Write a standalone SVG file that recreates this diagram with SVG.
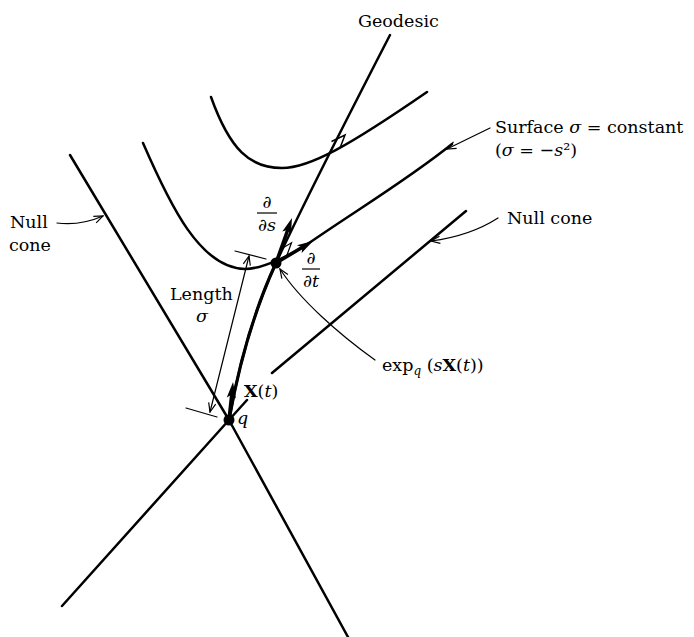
<svg xmlns="http://www.w3.org/2000/svg" width="694" height="637" viewBox="0 0 694 637">
<style>
.c{fill:none;stroke:#000;stroke-width:2.5;stroke-linecap:round;stroke-linejoin:round}
.thk{fill:none;stroke:#000;stroke-width:3.5;stroke-linecap:butt}
.thin{fill:none;stroke:#000;stroke-width:1.2;stroke-linecap:round}
.t{font-family:"DejaVu Serif","Liberation Serif",serif;font-size:17.5px;fill:#000}
.i{font-style:italic}
.b{font-weight:bold}
</style>
<defs>
<marker id="ah" markerUnits="userSpaceOnUse" viewBox="-9 -6 18 12" refX="0" refY="0" markerWidth="18" markerHeight="12" orient="auto">
<path d="M-8,-4.6 L8,0 L-8,4.6 L-4.5,0 Z" fill="#000"/>
</marker>
<marker id="oa" markerUnits="userSpaceOnUse" viewBox="-10 -5 11 10" refX="0" refY="0" markerWidth="11" markerHeight="10" orient="auto-start-reverse">
<path d="M-9,-3.6 L0,0 L-9,3.6" fill="none" stroke="#000" stroke-width="1.2"/>
</marker>
</defs>
<rect width="694" height="637" fill="#fff"/>

<g id="null-cone-left-to-right-down">
<path class="c" d="M70,155 L229,420 L348,637"/>
</g>
<g id="null-cone-right-up">
<path class="c" d="M62,606 L229,420 L247,400"/>
<path class="c" d="M272,373 L466,211"/>
</g>
<g id="surface-upper">
<path class="c" d="M211,97 C230,150 250,168 282,168 C310,168 350,145 427,92"/>
<path fill="none" stroke="#000" stroke-width="1.5" d="M331.5,141.5 L345,135 L340,148"/>
</g>
<g id="surface-lower">
<path class="c" d="M143,143 C170,205 200,268 245,269 C262,269 290,256 312,241 C360,208 410,178 452,144"/>
</g>
<g id="geodesic">
<path class="c" d="M229,420 Q245,330 276,263 Q307,196 390,35"/>
<path fill="none" stroke="#000" stroke-width="3.2" d="M229,420 Q245,330 276,263"/>
</g>

<g id="vectors">
<path class="thk" d="M229,420 L232.2,390" marker-end="url(#ah)"/>
<path class="thk" d="M276,263 L289.3,225.5" marker-end="url(#ah)"/>
<path class="thk" d="M276,263 L306.2,245" marker-end="url(#ah)"/>
<path fill="none" stroke="#000" stroke-width="1.2" d="M281,249 L291.5,242.8 L286.3,256.9"/>
</g>

<g id="point-q">
<circle cx="229" cy="420" r="5.5"/>
</g>
<g id="point-exp">
<circle cx="276" cy="263" r="5.5"/>
</g>

<g id="connectors">
<path class="thin" d="M249,256 L210,412" marker-start="url(#oa)" marker-end="url(#oa)"/>
<path class="thin" d="M235,251 L266,259"/>
<path class="thin" d="M186,408 L217,417"/>
<path class="thin" d="M375,360 C340,335 300,300 280,269" marker-end="url(#oa)"/>
<path class="thin" d="M57,223 Q80,226 103,216" marker-end="url(#oa)"/>
<path class="thin" d="M498,218 Q470,236 431,241" marker-end="url(#oa)"/>
<path class="thin" d="M490,128 L447,149" marker-end="url(#oa)"/>
</g>

<g id="labels">
<text class="t" x="358" y="27">Geodesic</text>
<text class="t" x="495" y="133" font-size="18">Surface <tspan class="i">σ</tspan> = constant</text>
<text class="t" x="495" y="156">(<tspan class="i">σ</tspan> = −<tspan class="i">s</tspan>²)</text>
<text class="t" x="507" y="224">Null cone</text>
<text class="t" x="10" y="228">Null</text>
<text class="t" x="9" y="251">cone</text>
<text class="t" x="170" y="300">Length</text>
<text class="t i" x="196" y="322">σ</text>
<text class="t i" x="267" y="208" text-anchor="middle" font-size="16">∂</text>
<line x1="257" y1="213" x2="277" y2="213" stroke="#000" stroke-width="1.2"/>
<text class="t i" x="267" y="231" text-anchor="middle" font-size="16">∂s</text>
<text class="t i" x="311" y="264" text-anchor="middle" font-size="16">∂</text>
<line x1="302" y1="269" x2="320" y2="269" stroke="#000" stroke-width="1.2"/>
<text class="t i" x="311" y="287" text-anchor="middle" font-size="16">∂t</text>
<text class="t" x="244" y="397"><tspan class="b">X</tspan>(<tspan class="i">t</tspan>)</text>
<text class="t i" x="237" y="424">q</text>
<text class="t" x="382" y="371">exp<tspan class="i" font-size="12" dy="4">q</tspan><tspan dy="-4"> (</tspan><tspan class="i">s</tspan><tspan class="b">X</tspan>(<tspan class="i">t</tspan>))</text>
</g>
</svg>
